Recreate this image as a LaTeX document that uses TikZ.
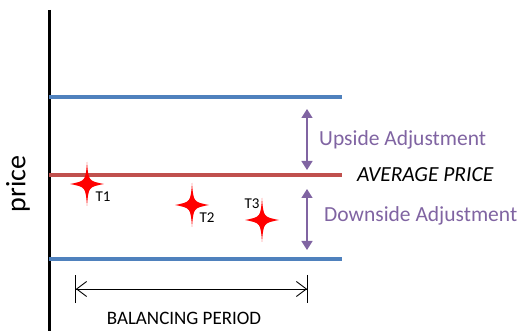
\documentclass[tikz,border=0pt]{standalone}
\usepackage{fontspec}
\setmainfont{Carlito}
\usetikzlibrary{arrows.meta}
\definecolor{lblue}{HTML}{4F81BD}
\definecolor{lred}{HTML}{C0504D}
\definecolor{lpurple}{HTML}{8064A2}
\tikzset{
  level/.style={line width=3.5pt},
  adj/.style={lpurple, line width=1.5pt, {Triangle[length=9pt,width=11pt]}-{Triangle[length=9pt,width=11pt]}},
  adjlabel/.style={lpurple, anchor=west, font=\fontsize{21.5}{24}\selectfont, inner sep=0pt},
  tlabel/.style={font=\fontsize{15}{17}\selectfont, inner sep=0pt},
  starshape/.pic={\fill[red] (0,-22) .. controls (1.5,-3) .. (17,0) .. controls (1.5,3) .. (0,22) .. controls (-1.5,3) .. (-17,0) .. controls (-1.5,-3) .. (0,-22) -- cycle;}
}
\begin{document}
\begin{tikzpicture}[x=1pt,y=-1pt]
\useasboundingbox (0,0) rectangle (517,331);
% axis
\coordinate (axtop) at (49,10);
\coordinate (axbot) at (49,331);
\draw[line width=3pt] (axtop) -- (axbot);
\node[rotate=90, font=\fontsize{28}{32}\selectfont, inner sep=0pt] (price) at (18,184) {price};
% levels
\coordinate (u0) at (49,97); \coordinate (u1) at (342,97);
\coordinate (m0) at (49,175); \coordinate (m1) at (342,175);
\coordinate (d0) at (49,259); \coordinate (d1) at (342,259);
\draw[level, lblue] (u0) -- (u1);
\draw[level, lred] (m0) -- (m1);
\draw[level, lblue] (d0) -- (d1);
% adjustments
\coordinate (a1) at (307,109); \coordinate (a2) at (307,170);
\coordinate (a3) at (307,189); \coordinate (a4) at (307,250);
\draw[adj] (a1) -- (a2);
\draw[adj] (a3) -- (a4);
\node[adjlabel] (up) at (319,140) {Upside Adjustment};
\node[anchor=west, font=\fontsize{21.5}{24}\selectfont\itshape, inner sep=0pt] (avg) at (357,175) {AVERAGE PRICE};
\node[adjlabel] (down) at (324,216) {Downside Adjustment};
% stars
\pic at (87,184) {starshape};
\pic at (192,205) {starshape};
\pic at (262,220) {starshape};
\node[tlabel] (t1) at (103,197) {T1};
\node[tlabel] (t2) at (207,218) {T2};
\node[tlabel] (t3) at (252,204) {T3};
% balancing period
\coordinate (b0) at (75,289); \coordinate (b1) at (308,289);
\draw[line width=0.9pt, {Bar[width=28pt]Straight Barb[length=10pt,width=15pt]}-{Straight Barb[length=10pt,width=15pt]Bar[width=28pt]}] (b0) -- (b1);
\node[font=\fontsize{19}{22}\selectfont, inner sep=0pt] (bp) at (184,318) {BALANCING PERIOD};
\end{tikzpicture}
\end{document}
